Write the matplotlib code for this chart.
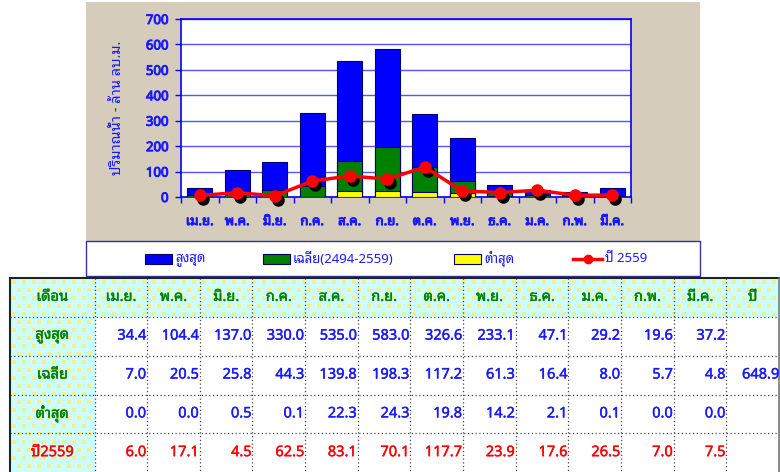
import matplotlib
matplotlib.use('Agg')
import matplotlib.pyplot as plt
import matplotlib.transforms as mtransforms
import matplotlib.patheffects as pe
from matplotlib.patches import Rectangle
import numpy as np

plt.rcParams['font.family'] = ['Noto Sans Thai Looped', 'DejaVu Sans']

months = ['เม.ย.', 'พ.ค.', 'มิ.ย.', 'ก.ค.', 'ส.ค.', 'ก.ย.', 'ต.ค.', 'พ.ย.', 'ธ.ค.', 'ม.ค.', 'ก.พ.', 'มี.ค.']
max_vals = [34.4, 104.4, 137.0, 330.0, 535.0, 583.0, 326.6, 233.1, 47.1, 29.2, 19.6, 37.2]
avg_vals = [7.0, 20.5, 25.8, 44.3, 139.8, 198.3, 117.2, 61.3, 16.4, 8.0, 5.7, 4.8]
min_vals = [0.0, 0.0, 0.5, 0.1, 22.3, 24.3, 19.8, 14.2, 2.1, 0.1, 0.0, 0.0]
y2559 = [6.0, 17.1, 4.5, 62.5, 83.1, 70.1, 117.7, 23.9, 17.6, 26.5, 7.0, 7.5]
avg_year = 648.9

row_names = ['สูงสุด', 'เฉลี่ย', 'ต่ำสุด', 'ปี2559']
leg_names = ['สูงสุด', 'เฉลี่ย(2494-2559)', 'ต่ำสุด', 'ปี 2559']

W, H = 780, 472
BLUE = '#0000ff'
TXT_BLUE = '#1a1aff'
GREEN = '#008000'
YELLOW = '#ffff00'
RED = '#ff0000'
BEIGE = '#d5ccbb'


def fake_bold(txt, w=0.6):
    # thicken glyphs a bit, the looped Thai face has no bold cut
    txt.set_path_effects([pe.withStroke(linewidth=w, foreground=txt.get_color())])
    return txt


fig = plt.figure(figsize=(W / 100, H / 100), dpi=100)
fig.patch.set_facecolor('white')

# overlay in pixel coords for backgrounds, legend box and table
bg = fig.add_axes([0, 0, 1, 1])
bg.set_xlim(0, W)
bg.set_ylim(H, 0)
bg.axis('off')
bg.add_patch(Rectangle((86, 2), 614, 239, facecolor=BEIGE, edgecolor='none'))
bg.add_patch(Rectangle((86, 241), 614, 35, facecolor='white', edgecolor='#333399', lw=1))

# ---------------- chart ----------------
x0, x1, ytop, ybot = 181, 631, 19, 197
ax = fig.add_axes([x0 / W, (H - ybot) / H, (x1 - x0) / W, (ybot - ytop) / H])
ax.set_facecolor('white')
x = np.arange(len(months))
bw = 0.67
ax.bar(x, max_vals, bw, color=BLUE, edgecolor='#000066', lw=0.8, zorder=2)
ax.bar(x, avg_vals, bw, color=GREEN, edgecolor='#000066', lw=0.8, zorder=3)
ax.bar(x, min_vals, bw, color=YELLOW, edgecolor='#000066', lw=0.8, zorder=4)
shadow = ax.transData + mtransforms.ScaledTranslation(3 / 100, -4 / 100, fig.dpi_scale_trans)
ax.plot(x, y2559, 'o', color='black', ms=8, transform=shadow, zorder=5, clip_on=False)
ax.plot(x, y2559, '-o', color=RED, lw=2.5, ms=8, zorder=6, clip_on=False)

ax.set_xlim(-0.5, 11.5)
ax.set_ylim(0, 700)
ax.set_yticks(range(0, 701, 100))
ax.yaxis.grid(True, color='#5555ff', lw=1)
ax.set_axisbelow(True)
ax.set_xticks(x)
ax.set_xticklabels(months)
ax.set_xticks(np.arange(-0.5, 12, 1), minor=True)
ax.tick_params(axis='x', which='major', length=0, pad=13, labelsize=9.5, labelcolor=TXT_BLUE)
ax.tick_params(axis='x', which='minor', length=4, color=BLUE, width=1)
ax.tick_params(axis='y', length=4, color=BLUE, width=1, pad=5, labelsize=9.5, labelcolor=TXT_BLUE)
for lab in ax.get_xticklabels() + ax.get_yticklabels():
    fake_bold(lab, 0.7)
for sp in ax.spines.values():
    sp.set_color(BLUE)
    sp.set_linewidth(1.2)
ax.set_ylabel('ปริมาณน้ำ - ล้าน ลบ.ม.', color=TXT_BLUE, fontsize=10.5, labelpad=15)

# ---------------- legend ----------------
leg_x = [145, 263, 454, 573]
leg_cols = [BLUE, GREEN, YELLOW]
for i in range(3):
    bg.add_patch(Rectangle((leg_x[i], 254), 27, 10, facecolor=leg_cols[i], edgecolor='#000066', lw=0.8))
    bg.text(leg_x[i] + 30, 259, leg_names[i], color=TXT_BLUE, fontsize=9.5, va='center', ha='left')
bg.plot([leg_x[3], leg_x[3] + 29], [259, 259], color=RED, lw=2.5)
bg.plot([leg_x[3] + 14.5], [259], 'o', color=RED, ms=6)
bg.text(leg_x[3] + 32, 259, leg_names[3], color=TXT_BLUE, fontsize=9.5, va='center', ha='left')

# ---------------- table ----------------
col_edges = [10, 94.5, 147, 199.7, 252.3, 305, 357.7, 410.3, 463, 515.7, 568.3, 621, 673.7, 726.3, 779]
row_edges = [278, 316.7, 355.5, 394.5, 433.3, 472]

# cyan fill with pale yellow dots: header row and first column
bg.add_patch(Rectangle((10, 278), 769, 38.7, facecolor='#ccffff', edgecolor='none'))
bg.add_patch(Rectangle((10, 316.7), 84.5, 155.3, facecolor='#ccffff', edgecolor='none'))
dots = []
for k, yy in enumerate(np.arange(282, 472, 8)):
    off = 0 if k % 2 == 0 else 5
    for xx in np.arange(14 + off, 779, 10):
        if yy < 316 or xx < 94:
            dots.append((xx, yy))
dots = np.array(dots)
bg.scatter(dots[:, 0], dots[:, 1], s=5, marker='s', color='#f2ee96', lw=0, zorder=1)

for cx in col_edges[1:-1]:
    bg.plot([cx, cx], [278, H], color='#444444', lw=0.9, ls=(0, (1, 2)), zorder=2)
for ry in row_edges[1:-1]:
    bg.plot([10, 779], [ry, ry], color='#444444', lw=0.9, ls=(0, (1, 2)), zorder=2)
bg.plot([10, 779], [278, 278], color='#222222', lw=1.5, zorder=2)
bg.plot([10, 10], [278, H], color='#222222', lw=1.5, zorder=2)
bg.plot([778.5, 778.5], [278, H], color='#777777', lw=1.2, zorder=2)


def cy(r):
    return (row_edges[r] + row_edges[r + 1]) / 2


def cx_mid(c):
    return (col_edges[c] + col_edges[c + 1]) / 2


fake_bold(bg.text(cx_mid(0), cy(0), 'เดือน', color=GREEN, fontsize=10.5, ha='center', va='center'), 0.3)
for j, m in enumerate(months):
    fake_bold(bg.text(cx_mid(j + 1), cy(0), m, color=GREEN, fontsize=10.5, ha='center', va='center'), 0.3)
fake_bold(bg.text(cx_mid(13), cy(0), 'ปี', color=GREEN, fontsize=10.5, ha='center', va='center'), 0.3)

table_rows = [max_vals, avg_vals, min_vals, y2559]
for r, vals in enumerate(table_rows):
    col = RED if r == 3 else TXT_BLUE
    fake_bold(bg.text(cx_mid(0), cy(r + 1), row_names[r], color=RED if r == 3 else GREEN,
                      fontsize=10.5, ha='center', va='center'), 0.3)
    for j, v in enumerate(vals):
        fake_bold(bg.text(col_edges[j + 2] - 1, cy(r + 1), '%.1f' % v, color=col,
                          fontsize=10.5, ha='right', va='center'), 0.3)
fake_bold(bg.text(779, cy(2), '%.1f' % avg_year, color=TXT_BLUE, fontsize=10.5, ha='right', va='center'), 0.3)

fig.savefig('out.png', dpi=100)
